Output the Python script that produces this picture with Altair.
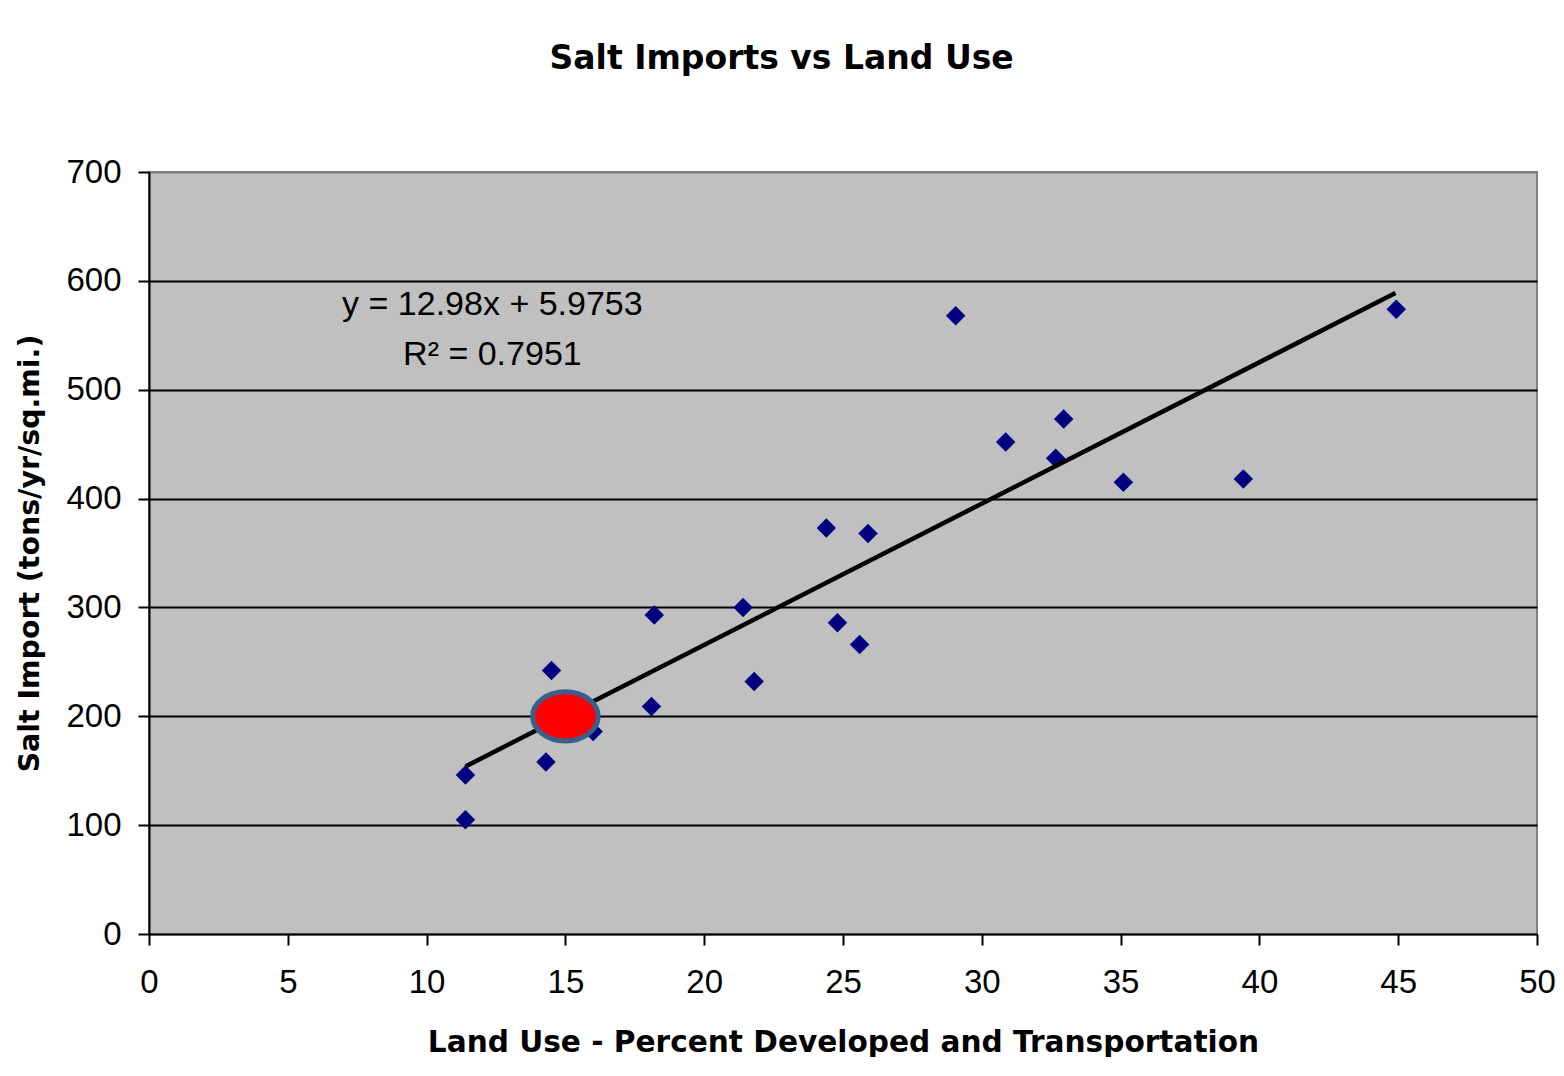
import altair as alt
import pandas as pd

# Observed data points (percent developed, salt import)
land_use = [11.4, 11.4, 14.5, 14.3, 16.0, 18.1, 18.2, 21.4, 21.8, 24.4, 24.8, 25.9, 25.6,
            29.06, 30.86, 32.66, 32.95, 35.1, 39.42, 44.93]
salt_import = [146, 105, 242, 158, 186, 209, 293, 300, 232, 373, 286, 368, 266,
               568, 452, 437, 473, 415, 418, 574]

# Trendline endpoints (from y = 12.98x + 5.9753)
trend_x = [11.4, 44.9]
trend_y = [153.9, 588.8]

# Highlighted point
hi_x = [15.0]
hi_y = [200]

# Equation annotation
eq_text = ["y = 12.98x + 5.9753", "R² = 0.7951"]
eq_x = [12.37, 12.37]
eq_y = [578, 532]

x_ticks = [0, 5, 10, 15, 20, 25, 30, 35, 40, 45, 50]
y_ticks = [0, 100, 200, 300, 400, 500, 600, 700]

FONT = "Liberation Sans"
BOLD_FONT = "DejaVu Sans"

pts = pd.DataFrame({"x": land_use, "y": salt_import})
trend = pd.DataFrame({"x": trend_x, "y": trend_y})
hi = pd.DataFrame({"x": hi_x, "y": hi_y})
eq = pd.DataFrame({"x": eq_x, "y": eq_y, "t": eq_text})

xscale = alt.Scale(domain=[0, 50], nice=False, zero=True)
yscale = alt.Scale(domain=[0, 700], nice=False, zero=True)

xaxis = alt.Axis(
    values=x_ticks, title="Land Use - Percent Developed and Transportation",
    grid=False, tickSize=11, tickWidth=2, tickColor="black",
    domainColor="black", domainWidth=2, labelFlush=False,
    labelFont=FONT, labelFontSize=33, labelColor="black", labelPadding=21,
    titleFont=BOLD_FONT, titleFontSize=29.6, titleFontWeight="bold", titleColor="black",
    titlePadding=29,
)
yaxis = alt.Axis(
    values=y_ticks, title="Salt Import (tons/yr/sq.mi.)",
    grid=True,
    gridColor={"condition": {"test": "datum.value == 700 || datum.value == 0", "value": "#808080"}, "value": "black"},
    gridWidth=2,
    tickSize=11, tickWidth=2, tickColor="black",
    domainColor="black", domainWidth=2, labelFlush=False,
    labelFont=FONT, labelFontSize=33, labelColor="black", labelPadding=17,
    titleFont=BOLD_FONT, titleFontSize=28.4, titleFontWeight="bold", titleColor="black",
    titlePadding=21,
)

base_x = alt.X("x:Q", scale=xscale, axis=xaxis)
base_y = alt.Y("y:Q", scale=yscale, axis=yaxis)

points = alt.Chart(pts).mark_point(
    shape="diamond", filled=True, color="#000080", opacity=1, size=380
).encode(x=base_x, y=base_y)

line = alt.Chart(trend).mark_line(color="black", strokeWidth=4.5).encode(
    x=alt.X("x:Q", scale=xscale), y=alt.Y("y:Q", scale=yscale)
)

ellipse = alt.Chart(hi).mark_point(
    shape="M-1,0A1,0.75,0,1,0,1,0A1,0.75,0,1,0,-1,0Z",
    filled=True, fill="red", stroke="#3a5f8b", strokeWidth=5, opacity=1,
    fillOpacity=1, strokeOpacity=1, size=4300,
).encode(x=alt.X("x:Q", scale=xscale), y=alt.Y("y:Q", scale=yscale))

text = alt.Chart(eq).mark_text(
    font=FONT, fontSize=34, color="black", align="center", baseline="middle"
).encode(x=alt.X("x:Q", scale=xscale), y=alt.Y("y:Q", scale=yscale), text="t:N")

chart = alt.layer(points, line, ellipse, text).properties(
    width=1388, height=762,
    title=alt.TitleParams(
        "Salt Imports vs Land Use", font=BOLD_FONT, fontSize=33, fontWeight="bold",
        color="black", anchor="middle", frame="bounds", offset=80, dx=-4,
    ),
    padding={"left": 7, "top": 35, "right": 0, "bottom": 0},
).configure_view(
    fill="#c0c0c0", stroke="#808080", strokeWidth=2
)

chart.save("out.html", embed_options={"renderer": "svg", "actions": False})
